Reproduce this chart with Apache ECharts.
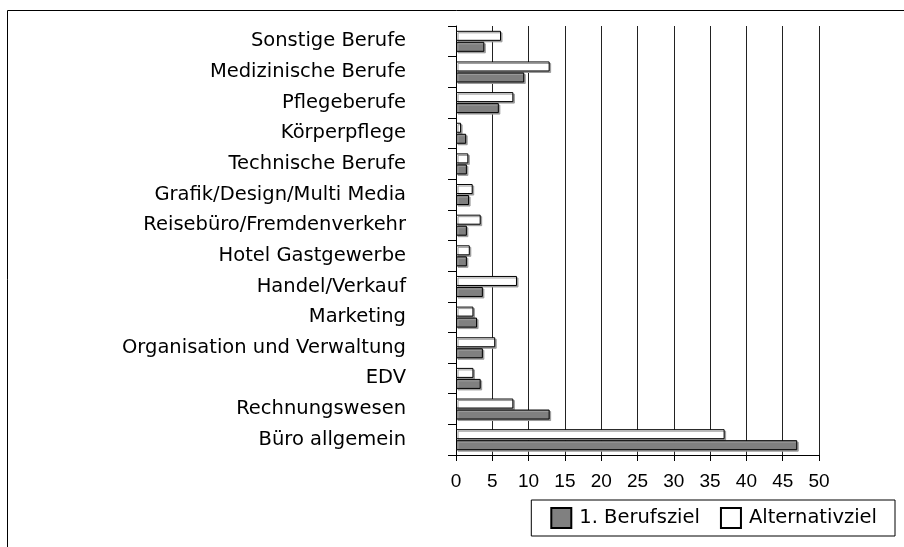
<!DOCTYPE html>
<html>
<head>
<meta charset="utf-8">
<script src="https://cdn.jsdelivr.net/npm/echarts@6/dist/echarts.min.js"></script>
<style>
  html, body { margin: 0; padding: 0; background: #fff; }
  #chart { width: 904px; height: 547px; }
</style>
</head>
<body>
<div id="chart"></div>
<script>
// categories from bottom to top (category axis starts at the bottom)
const categories = [
  "Büro allgemein",
  "Rechnungswesen",
  "EDV",
  "Organisation und Verwaltung",
  "Marketing",
  "Handel/Verkauf",
  "Hotel Gastgewerbe",
  "Reisebüro/Fremdenverkehr",
  "Grafik/Design/Multi Media",
  "Technische Berufe",
  "Körperpflege",
  "Pflegeberufe",
  "Medizinische Berufe",
  "Sonstige Berufe",
];
const berufsziel = [47, 12.9, 3.4, 3.7, 2.9, 3.7, 1.5, 1.5, 1.8, 1.5, 1.4, 5.9, 9.4, 3.9];
const alternativziel = [37, 7.9, 2.4, 5.4, 2.4, 8.4, 1.9, 3.4, 2.3, 1.7, 0.7, 7.9, 12.9, 6.2];
const seriesNames = ["1. Berufsziel", "Alternativziel"];

const labelFont = "DejaVu Sans";
const tickFont = "Liberation Sans";

let myChart = echarts.init(document.getElementById("chart"));

const barStyle = (color) => ({
  color: color,
  borderColor: "#000",
  borderWidth: 1,
  shadowColor: "#9a9a9a",
  shadowBlur: 0,
  shadowOffsetX: 1.5,
  shadowOffsetY: 1.5,
});

let option = {
  animation: false,
  graphic: [
    {
      type: "rect",
      shape: { x: 7.5, y: 10.5, width: 1000, height: 1000 },
      style: { fill: "none", stroke: "#000", lineWidth: 1 },
      silent: true,
    },
  ],
  legend: {
    right: 9,
    top: 500,
    orient: "horizontal",
    borderColor: "#000",
    borderWidth: 1,
    padding: [7, 18, 7, 19],
    itemWidth: 20,
    itemHeight: 20,
    itemGap: 20,
    icon: "rect",
    itemStyle: { shadowColor: "transparent", shadowBlur: 0, shadowOffsetX: 0, shadowOffsetY: 0 },
    textStyle: { color: "#000", fontSize: 19.5, fontFamily: labelFont, padding: [0, 0, 0, 3] },
    data: seriesNames,
  },
  grid: {
    left: 456,
    right: 85,
    top: 26,
    bottom: 92,
    containLabel: false,
  },
  xAxis: {
    type: "value",
    min: 0,
    max: 50,
    interval: 5,
    axisLine: { show: true, lineStyle: { color: "#000" } },
    axisTick: { show: true, length: 6, lineStyle: { color: "#000" } },
    axisLabel: { color: "#000", fontSize: 19, fontFamily: tickFont, margin: 17 },
    splitLine: { show: true, lineStyle: { color: "#222", width: 1 } },
  },
  yAxis: {
    type: "category",
    data: categories,
    axisLine: { show: true, lineStyle: { color: "#000" } },
    axisTick: { show: true, length: 8, lineStyle: { color: "#000" } },
    axisLabel: { color: "#000", fontSize: 19.5, fontFamily: labelFont, margin: 50, interval: 0 },
    splitLine: { show: false },
  },
  series: [
    {
      // first series sits on top inside each row
      name: seriesNames[1],
      type: "bar",
      barWidth: 10,
      barGap: "10%",
      itemStyle: barStyle("#fff"),
      data: alternativziel,
    },
    {
      name: seriesNames[0],
      type: "bar",
      barWidth: 10,
      itemStyle: barStyle("#808080"),
      data: berufsziel,
    },
  ],
};
myChart.setOption(option);
</script>
</body>
</html>
